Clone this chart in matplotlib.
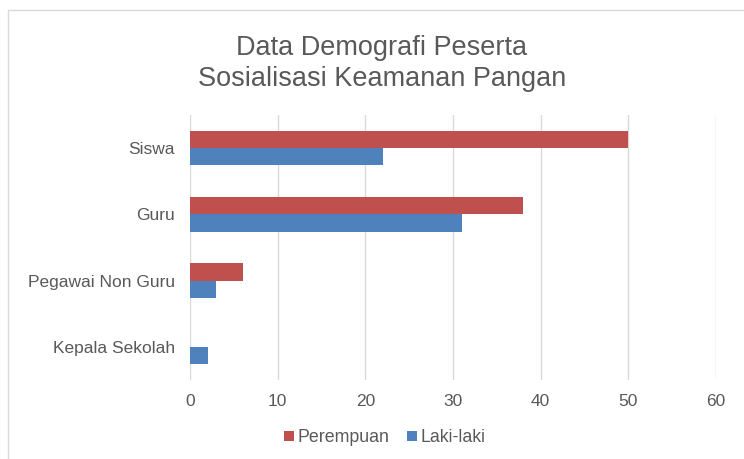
import numpy as np
import matplotlib
matplotlib.use("Agg")
import matplotlib.pyplot as plt
from matplotlib.patches import Rectangle

plt.rcParams['font.family'] = ['Liberation Sans', 'DejaVu Sans']

categories = ["Siswa", "Guru", "Pegawai Non Guru", "Kepala Sekolah"]
perempuan = [50, 38, 6, 0]
laki_laki = [22, 31, 3, 2]
xticks = [0, 10, 20, 30, 40, 50, 60]

red = "#c0504d"
blue = "#4f81bd"
gray = "#595959"

fig = plt.figure(figsize=(7.44, 4.59), dpi=100)
ax = fig.add_axes([0.2554, 0.172, 0.707, 0.5775])

y = np.arange(len(categories))
h = 0.26
ax.barh(y - h / 2, perempuan, height=h, color=red, label="Perempuan", zorder=3)
ax.barh(y + h / 2, laki_laki, height=h, color=blue, label="Laki-laki", zorder=3)

ax.set_ylim(len(categories) - 0.5, -0.5)
ax.set_xlim(0, 60)
ax.set_xticks(xticks)
ax.set_yticks(y)
ax.set_yticklabels(categories)
ax.tick_params(axis='both', length=0, labelsize=12.5, colors=gray)
ax.tick_params(axis='y', pad=11)
ax.tick_params(axis='x', pad=10)
ax.grid(axis='x', color="#d9d9d9", linewidth=1, zorder=0)
for s in ax.spines.values():
    s.set_visible(False)

fig.text(0.513, 0.862, "Data Demografi Peserta\nSosialisasi Keamanan Pangan",
         ha='center', va='center', fontsize=19.5, color=gray, linespacing=1.25)

handles, labels = ax.get_legend_handles_labels()
fig.legend(handles, labels, loc='center', bbox_to_anchor=(0.517, 0.046), ncol=2,
           frameon=False, fontsize=12.8, handlelength=0.55, handleheight=0.55,
           handletextpad=0.2, columnspacing=1.0, labelcolor=gray)

fig.patches.append(Rectangle((8 / 744, -0.05), 1.2, 1 - 10 / 459 + 0.05,
                             transform=fig.transFigure, fill=False,
                             edgecolor="#d9d9d9", linewidth=1))

fig.savefig("out.png", dpi=100)
